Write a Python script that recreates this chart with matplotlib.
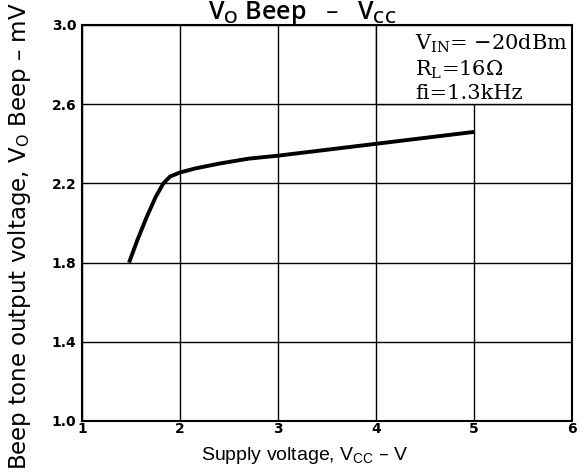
import matplotlib
matplotlib.use("Agg")
from matplotlib import pyplot as plt
from matplotlib.patches import Rectangle

# supply voltage (V) vs beep output (mV)
vcc = [1.48, 1.57, 1.66, 1.75, 1.83, 1.90, 2.00, 2.15, 2.40, 2.70, 3.00, 3.50, 4.00, 4.50, 5.00]
vo_beep = [1.80, 1.92, 2.03, 2.13, 2.20, 2.235, 2.255, 2.275, 2.30, 2.325, 2.34, 2.37, 2.40, 2.43, 2.46]

xticks = [1, 2, 3, 4, 5, 6]
yticks = [1.0, 1.4, 1.8, 2.2, 2.6, 3.0]
ytick_labels = ["1.0", "1.4", "1.8", "2.2", "2.6", "3.0"]

plt.rcParams['font.family'] = ['Liberation Sans', 'DejaVu Sans']
plt.rcParams['mathtext.default'] = 'regular'

W, H = 581, 476
fig = plt.figure(figsize=(W / 100, H / 100), dpi=100)
ax = fig.add_axes([82 / W, 1 - 421 / H, 490 / W, 396 / H])

ax.set_xlim(1, 6)
ax.set_ylim(1.0, 3.0)
ax.set_xticks(xticks)
ax.set_yticks(yticks)
ax.set_xticklabels([str(t) for t in xticks], fontweight='bold', fontsize=10, family='DejaVu Sans')
ax.set_yticklabels(ytick_labels, fontweight='bold', fontsize=10, family='DejaVu Sans')
ax.tick_params(length=0, pad=4)
ax.tick_params(axis='x', pad=1)
ax.grid(True, color='black', linewidth=1.0)
for s in ax.spines.values():
    s.set_linewidth(1.5)

ax.plot(vcc, vo_beep, color='black', linewidth=2.8, solid_capstyle='butt', zorder=3)

# box with conditions, hides the grid line at 5 V
ax.add_patch(Rectangle((4, 2.6), 2, 0.4, facecolor='white', edgecolor='black', linewidth=1.0, zorder=2.5))
ax.text(4.40, 2.96, "V$_{IN}$= −20dBm\nR$_L$=16Ω\nfi=1.3kHz", family='DejaVu Serif',
        fontsize=15, va='top', ha='left', linespacing=1.2, zorder=4)

fig.text(302 / W, 1 - 13 / H, "V$_O$ Beep   –   V$_{CC}$", fontsize=18, family='Open Sans',
         fontweight='semibold', ha='center', va='center')
fig.text(305 / W, 1 - 455 / H, "Supply voltage, V$_{CC}$ – V", fontsize=14, ha='center', va='center')
fig.text(20 / W, 1 - 236 / H, "Beep tone output voltage, V$_O$ Beep – mV", fontsize=16.5,
         family='DejaVu Sans', rotation=90, ha='center', va='center')

fig.savefig("out.png", dpi=100)
